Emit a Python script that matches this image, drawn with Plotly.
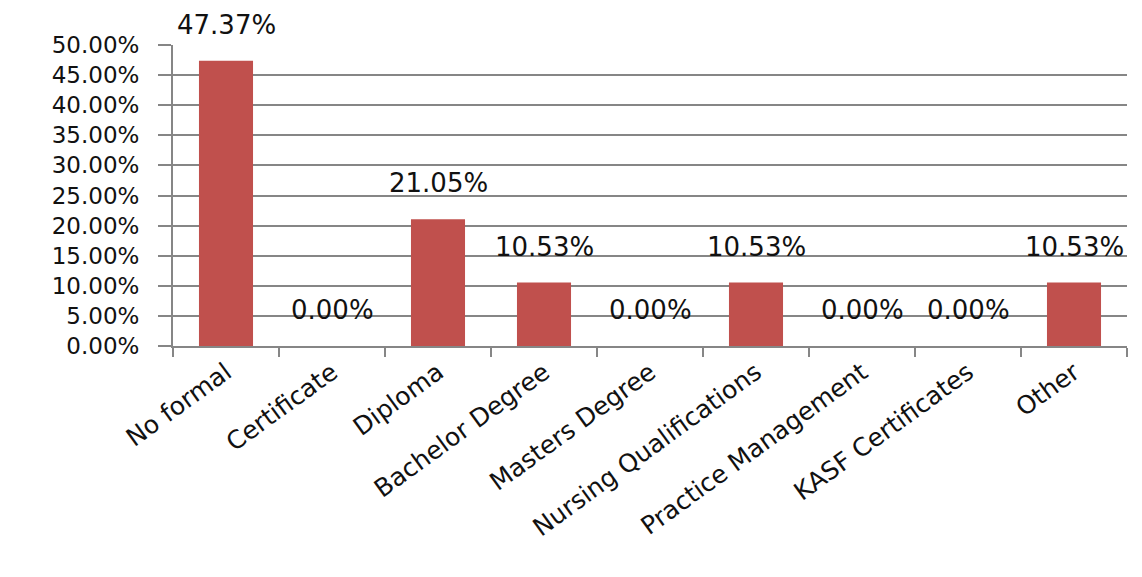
import plotly.graph_objects as go

categories = [
    "No formal", "Certificate", "Diploma", "Bachelor Degree", "Masters Degree",
    "Nursing Qualifications", "Practice Management", "KASF Certificates", "Other",
]
shares = [0.4737, 0.0, 0.2105, 0.1053, 0.0, 0.1053, 0.0, 0.0, 0.1053]

bar_color = "#C0504D"
line_color = "#868686"
font_family = "DejaVu Sans"

fig = go.Figure(
    go.Bar(
        x=categories,
        y=shares,
        marker=dict(color=bar_color, line=dict(width=0)),
        width=0.51,
        hoverinfo="skip",
    )
)

# value labels floating above each bar
for cat, val in zip(categories, shares):
    fig.add_annotation(
        x=cat, y=val, text=f"{val:.2%}", showarrow=False,
        yanchor="middle", yshift=36,
        font=dict(family=font_family, size=26, color="#111111"),
    )

fig.update_layout(
    width=1142, height=577,
    margin=dict(l=173, r=15, t=45, b=231),
    paper_bgcolor="white", plot_bgcolor="white",
    showlegend=False,
    bargap=0.49,
)

fig.update_yaxes(
    range=[0, 0.5], dtick=0.05, tick0=0, tickformat=".2%",
    showgrid=True, gridcolor=line_color, gridwidth=2,
    showline=True, linecolor=line_color, linewidth=2,
    ticks="outside", ticklen=13, tickcolor=line_color, tickwidth=2,
    ticklabelstandoff=14,
    tickfont=dict(family=font_family, size=23, color="#111111"),
    zeroline=False,
)

fig.update_xaxes(
    tickson="boundaries", ticks="outside", ticklen=9, tickcolor=line_color, tickwidth=2,
    showline=True, linecolor=line_color, linewidth=2,
    showgrid=False, tickangle=-36,
    tickfont=dict(family=font_family, size=25, color="#111111"),
)

fig.write_html("out.html")
